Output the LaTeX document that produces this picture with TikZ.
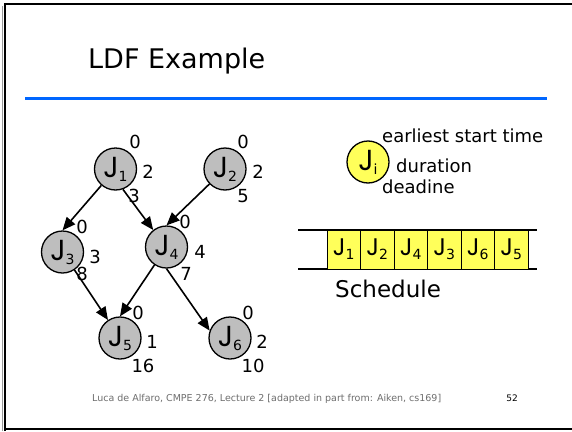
\documentclass[tikz,border=0pt]{standalone}
\usepackage{fontspec}
\setmainfont{DejaVu Sans}
\newfontfamily\jfont{Poppins}
\usetikzlibrary{arrows.meta}
\definecolor{slideblue}{RGB}{0,102,255}
\definecolor{jobgray}{RGB}{190,190,190}
\definecolor{jobyellow}{RGB}{255,255,90}
\definecolor{footgray}{RGB}{110,110,110}
\newcommand{\Jn}[1]{{\jfont\fontsize{29}{29}\selectfont J}\raisebox{-4pt}{\fontsize{14}{14}\selectfont #1}}
\newcommand{\Js}[1]{{\jfont\fontsize{24}{24}\selectfont J}\raisebox{-4pt}{\fontsize{14}{14}\selectfont #1}}
\begin{document}
\begin{tikzpicture}[x=1pt,y=-1pt,
  job/.style={circle,draw,line width=1.3pt,fill=jobgray,minimum size=42pt,inner sep=0pt},
  lab/.style={font=\fontsize{18}{18}\selectfont,inner sep=0pt},
  txt/.style={font=\fontsize{18}{18}\selectfont,inner sep=0pt,anchor=base west},
  arr/.style={-{Triangle[length=13pt,width=11pt]},line width=1.6pt},
  slot/.style={draw,line width=0.8pt,fill=jobyellow,minimum width=33.5pt,minimum height=39pt,inner sep=0pt}]
\useasboundingbox (0,0) rectangle (572,431);
\fill[white] (0,0) rectangle (572,431);
% slide frame
\draw[black!40,line width=1pt] (2,431) -- (2,6);
\draw[line width=2.2pt] (5,431) -- (5,4) -- (572,4);
\draw[line width=2.2pt] (5,429) -- (572,429);
% title
\node[anchor=base west,font=\fontsize{27}{27}\selectfont,inner sep=0pt] (title) at (88,68) {LDF Example};
\draw[slideblue,line width=3pt] (25,98) -- (547,98);
% job graph
\node[job] (J1) at (115.5,169) {\Jn{1}};
\node[job] (J2) at (225,169) {\Jn{2}};
\node[job] (J3) at (62.5,252) {\Jn{3}};
\node[job] (J4) at (166.5,247) {\Jn{4}};
\node[job] (J5) at (120,338) {\Jn{5}};
\node[job] (J6) at (230,338) {\Jn{6}};
\draw[arr] (J1) -- (J3.north);
\draw[arr] (J1.290) -- (J4.128);
\draw[arr] (J2) -- (J4.north);
\draw[arr] (J3) -- (J5);
\draw[arr] (J4) -- (J5.north);
\draw[arr] (J4.south) -- (J6.160);
% labels
\node[lab] (J1e) at (135,142) {0};
\node[lab] (J1d) at (148,172) {2};
\node[lab] (J1l) at (134,196) {3};
\node[lab] (J2e) at (243,142) {0};
\node[lab] (J2d) at (258,172) {2};
\node[lab] (J2l) at (243,196) {5};
\node[lab] (J3e) at (82,227) {0};
\node[lab] (J3d) at (95,257) {3};
\node[lab] (J3l) at (82,274) {8};
\node[lab] (J4e) at (185,222) {0};
\node[lab] (J4d) at (200,252) {4};
\node[lab] (J4l) at (186,274) {7};
\node[lab] (J5e) at (138,313) {0};
\node[lab] (J5d) at (152,342) {1};
\node[lab] (J5l) at (143,366) {16};
\node[lab] (J6e) at (248,313) {0};
\node[lab] (J6d) at (262,342) {2};
\node[lab] (J6l) at (253,366) {10};
% legend
\node[job,fill=jobyellow] (Ji) at (368,162) {\Jn{i}};
\node[txt] (est) at (382,142) {earliest start time};
\node[txt] (dur) at (396,172) {duration};
\node[txt] (dl) at (382,193) {deadine};
% schedule
\draw[line width=1.2pt] (298,230) -- (537,230);
\draw[line width=1.2pt] (298,269) -- (537,269);
\node[slot] (s1) at (343.75,249.5) {\Js{1}};
\node[slot] (s2) at (377.25,249.5) {\Js{2}};
\node[slot] (s3) at (410.75,249.5) {\Js{4}};
\node[slot] (s4) at (444.25,249.5) {\Js{3}};
\node[slot] (s5) at (477.75,249.5) {\Js{6}};
\node[slot] (s6) at (511.25,249.5) {\Js{5}};
\node[anchor=base west,font=\fontsize{23}{23}\selectfont,inner sep=0pt] (sched) at (335,297) {Schedule};
% footer
\node[anchor=base west,font=\fontsize{9.5}{9.5}\selectfont,text=footgray,inner sep=0pt] (foot) at (92,401) {Luca de Alfaro, CMPE 276, Lecture 2 [adapted in part from: Aiken, cs169]};
\node[anchor=base,font=\fontsize{9}{9}\selectfont,inner sep=0pt] (page) at (512,401) {52};
\end{tikzpicture}
\end{document}
